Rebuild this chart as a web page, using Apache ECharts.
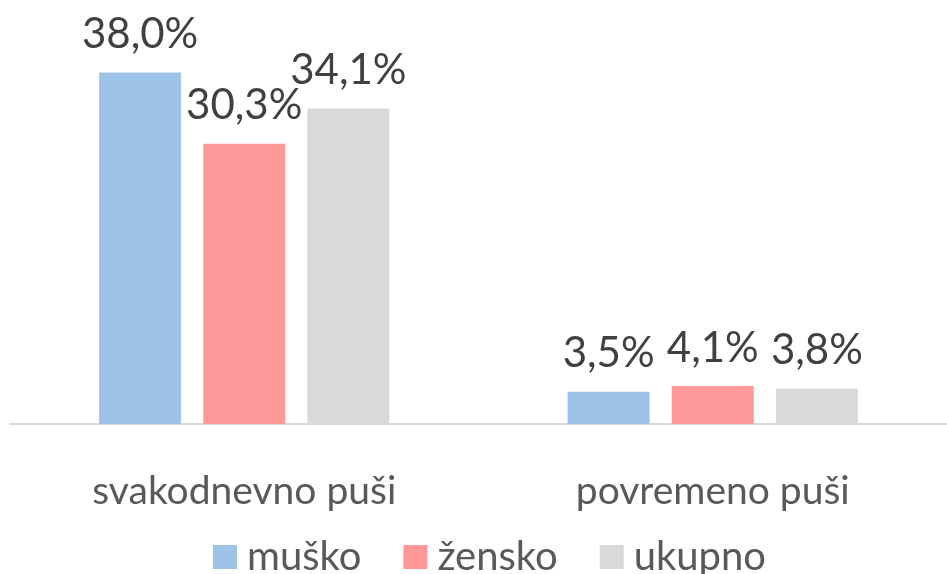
<!DOCTYPE html>
<html>
<head>
<meta charset="utf-8">
<script src="https://cdn.jsdelivr.net/npm/echarts@6/dist/echarts.min.js"></script>
<style>
  html, body { margin: 0; padding: 0; background: #fff; }
  #chart { width: 947px; height: 574px; }
</style>
</head>
<body>
<div id="chart"></div>
<script>
// data
const categories = ['svakodnevno puši', 'povremeno puši']
const seriesNames = ['muško', 'žensko', 'ukupno']
const musko = [38.0, 3.5]
const zensko = [30.3, 4.1]
const ukupno = [34.1, 3.8]

const colors = ['#9DC3E6', '#FF9999', '#D9D9D9']
const font = 'Lato, "Open Sans", sans-serif'

const chart = echarts.init(document.getElementById('chart'))

const makeSeries = (name, data, color) => ({
  name: name,
  type: 'bar',
  barWidth: 82,
  barGap: '27%',
  itemStyle: { color: color },
  label: {
    show: true,
    position: 'top',
    distance: 17,
    color: '#404040',
    fontFamily: font,
    fontSize: 42,
    formatter(p) {
      return p.value.toFixed(1).replace('.', ',') + '%'
    }
  },
  data: data
})

chart.setOption({
  backgroundColor: '#fff',
  animation: false,
  grid: {
    left: 10,
    width: 942,
    top: 54,
    bottom: 150
  },
  legend: {
    data: seriesNames,
    left: 208,
    top: 532,
    itemWidth: 24,
    itemHeight: 24,
    itemGap: 42,
    icon: 'rect',
    textStyle: {
      color: '#595959',
      fontFamily: font,
      fontSize: 40,
      padding: [0, 0, 0, 5]
    }
  },
  xAxis: {
    type: 'category',
    data: categories,
    axisLine: { lineStyle: { color: '#D9D9D9', width: 2 } },
    axisTick: { show: false },
    axisLabel: {
      margin: 48,
      color: '#595959',
      fontFamily: font,
      fontSize: 39
    }
  },
  yAxis: {
    type: 'value',
    min: 0,
    max: 40,
    show: false,
    splitLine: { show: false }
  },
  series: [
    makeSeries(seriesNames[0], musko, colors[0]),
    makeSeries(seriesNames[1], zensko, colors[1]),
    makeSeries(seriesNames[2], ukupno, colors[2])
  ]
})
</script>
</body>
</html>
